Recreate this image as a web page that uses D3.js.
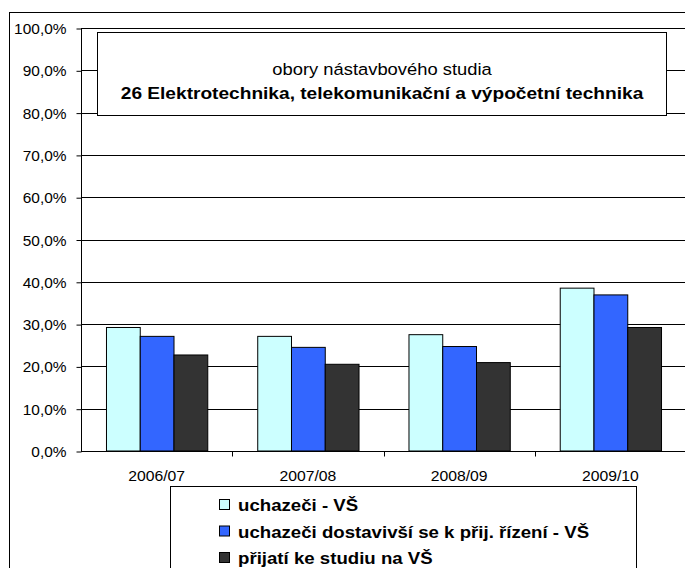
<!DOCTYPE html>
<html><head><meta charset="utf-8">
<script src="https://cdn.jsdelivr.net/npm/d3@7"></script>
<style>body{margin:0;background:#fff}svg{display:block;font-family:"Liberation Sans",Arial,sans-serif}</style>
</head><body>
<svg id="c" width="685" height="568"></svg>
<script>
const categories = ["2006/07","2007/08","2008/09","2009/10"];
const seriesNames = ["uchazeči - VŠ","uchazeči dostavivší se k přij. řízení - VŠ","přijatí ke studiu na VŠ"];
const seriesColors = ["#CCFFFF","#3366FF","#333333"];
const uchazeci = [29.2, 27.1, 27.5, 38.5];
const dostavivsi = [27.1, 24.5, 24.7, 36.9];
const prijati = [22.7, 20.5, 20.9, 29.2];
const yTicks = [0,10,20,30,40,50,60,70,80,90,100];
const titleLine1 = "obory nástavbového studia";
const titleLine2 = "26 Elektrotechnika, telekomunikační a výpočetní technika";

const series = [uchazeci, dostavivsi, prijati];
const svg = d3.select("#c");
const X0 = 81, X1 = 686, Y0 = 451, Y1 = 28;

function stext(parent, x, y, txt, size, sx, anchor, weight) {
  return parent.append("text")
    .attr("transform", `translate(${x},${y}) scale(${sx},1)`)
    .attr("text-anchor", anchor).attr("font-size", size)
    .attr("font-weight", weight || "normal").attr("fill", "#000").text(txt);
}

// outer border
svg.append("rect").attr("x",9.5).attr("y",12.5).attr("width",700).attr("height",600)
  .attr("fill","none").attr("stroke","#000").attr("stroke-width",1);

const y = d3.scaleLinear().domain([0,100]).range([Y0,Y1]);
const x0 = d3.scaleBand().domain(categories).range([X0,X1]).padding(0);
const x1 = d3.scaleBand().domain(d3.range(3)).range([0,x0.bandwidth()]).paddingOuter(0.74).paddingInner(0);

// gridlines
svg.append("g").selectAll("line").data(yTicks.filter(d=>d>0)).join("line")
  .attr("x1",X0).attr("x2",X1).attr("y1",d=>Math.round(y(d))+0.5).attr("y2",d=>Math.round(y(d))+0.5)
  .attr("stroke","#000").attr("stroke-width",1);

// y axis
const fmt = d=>d3.format(".1f")(d).replace(".",",")+"%";
const yAxis = d3.axisLeft(y).tickValues(yTicks).tickSize(5).tickPadding(10).tickFormat(fmt);
const gy = svg.append("g").attr("transform",`translate(${X0+0.5},0.5)`).call(yAxis);
gy.select(".domain").attr("d",`M0,${Y1}V${Y0}`).attr("stroke","#000");
gy.selectAll(".tick line").attr("stroke","#000");
gy.selectAll(".tick text").attr("x",null).attr("dy",null)
  .attr("transform","translate(-15,5) scale(1.03,1)")
  .attr("font-size",15).attr("fill","#000").attr("font-family","Liberation Sans, Arial, sans-serif");

// bars
const groups = svg.append("g").selectAll("g").data(categories).join("g")
  .attr("transform",c=>`translate(${x0(c)},0)`);
groups.selectAll("rect").data((c,i)=>series.map((s,k)=>({k, v:s[i]}))).join("rect")
  .attr("x",d=>x1(d.k)+0.5).attr("width",x1.bandwidth())
  .attr("y",d=>y(d.v)).attr("height",d=>Y0-y(d.v))
  .attr("fill",d=>seriesColors[d.k]).attr("stroke","#000").attr("stroke-width",1);

// x axis
const gx = svg.append("g").attr("transform",`translate(0,${Y0+0.5})`);
gx.append("line").attr("x1",X0).attr("x2",X1).attr("stroke","#000");
gx.selectAll("line.t").data(categories.slice(1)).join("line").attr("class","t")
  .attr("x1",c=>Math.round(x0(c))+0.5).attr("x2",c=>Math.round(x0(c))+0.5).attr("y1",0).attr("y2",5).attr("stroke","#000");
categories.forEach(c=>stext(gx, x0(c)+x0.bandwidth()/2, 29, c, 15, 1.05, "middle"));

// title box
svg.append("rect").attr("x",97.5).attr("y",32.5).attr("width",569).attr("height",83)
  .attr("fill","#fff").attr("stroke","#000");
stext(svg, 382, 75, titleLine1, 17, 1.08, "middle");
stext(svg, 382, 98.5, titleLine2, 17, 1.125, "middle", "bold");

// legend
svg.append("rect").attr("x",170.5).attr("y",486.5).attr("width",466).attr("height",100)
  .attr("fill","#fff").attr("stroke","#000");
const lg = svg.append("g").selectAll("g").data(seriesNames).join("g")
  .attr("transform",(d,i)=>`translate(219,${499+i*26.5})`);
lg.append("rect").attr("x",0.5).attr("y",0.5).attr("width",10).attr("height",10)
  .attr("fill",(d,i)=>seriesColors[i]).attr("stroke","#000");
lg.each(function(d){ stext(d3.select(this), 19, 12, d, 16, 1.166, "start", "bold"); });
</script>
</body></html>
